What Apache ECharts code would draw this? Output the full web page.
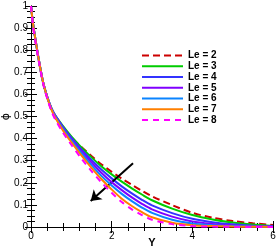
<!DOCTYPE html>
<html><head><meta charset="utf-8">
<script src="https://cdn.jsdelivr.net/npm/echarts@6/dist/echarts.min.js"></script>
<style>html,body{margin:0;padding:0;background:#fff}#c{width:278px;height:248px}</style>
</head><body><div id="c"></div>
<script>
const xs  = [0, 0.05, 0.1, 0.2, 0.3, 0.4, 0.5, 0.6, 0.8, 1.0, 1.25, 1.5, 1.75, 2.0, 2.25, 2.5, 2.75, 3.0, 3.5, 4.0, 4.5, 5.0, 5.5, 6.0];
const le2 = [1, 0.91, 0.85, 0.745, 0.65, 0.585, 0.532, 0.495, 0.447, 0.406, 0.362, 0.321, 0.283, 0.25, 0.219, 0.191, 0.164, 0.139, 0.099, 0.064, 0.042, 0.027, 0.017, 0.009];
const le3 = [1, 0.92, 0.86, 0.75, 0.655, 0.59, 0.54, 0.505, 0.455, 0.41, 0.36, 0.315, 0.274, 0.238, 0.205, 0.175, 0.147, 0.121, 0.083, 0.054, 0.034, 0.02, 0.011, 0.005];
const le4 = [1, 0.92, 0.86, 0.75, 0.655, 0.59, 0.54, 0.505, 0.451, 0.404, 0.351, 0.303, 0.259, 0.22, 0.184, 0.152, 0.123, 0.098, 0.063, 0.037, 0.022, 0.012, 0.006, 0.003];
const le5 = [1, 0.92, 0.86, 0.75, 0.655, 0.59, 0.54, 0.502, 0.447, 0.398, 0.343, 0.292, 0.244, 0.203, 0.167, 0.134, 0.105, 0.08, 0.047, 0.025, 0.014, 0.007, 0.004, 0.002];
const le6 = [1, 0.92, 0.86, 0.75, 0.655, 0.59, 0.537, 0.499, 0.442, 0.392, 0.334, 0.28, 0.23, 0.188, 0.15, 0.117, 0.088, 0.064, 0.033, 0.016, 0.008, 0.004, 0.002, 0.001];
const le7 = [1, 0.92, 0.86, 0.75, 0.655, 0.588, 0.535, 0.495, 0.435, 0.384, 0.324, 0.268, 0.216, 0.17, 0.128, 0.095, 0.067, 0.044, 0.019, 0.008, 0.004, 0.002, 0.001, 0];
const le8 = [1, 0.91, 0.85, 0.745, 0.65, 0.583, 0.528, 0.487, 0.425, 0.372, 0.31, 0.253, 0.201, 0.155, 0.113, 0.08, 0.054, 0.033, 0.013, 0.004, 0.002, 0.001, 0, 0];
const names = ['Le = 2', 'Le = 3', 'Le = 4', 'Le = 5', 'Le = 6', 'Le = 7', 'Le = 8'];
const arrowFrom = [2.53, 0.288];
const arrowTo = [1.48, 0.118];
const xTicks = [0, 2, 4, 6];
const yTicks = [0, 0.1, 0.2, 0.3, 0.4, 0.5, 0.6, 0.7, 0.8, 0.9, 1];

const allY = [le2, le3, le4, le5, le6, le7, le8];
const colors = ['#cc0000', '#00cc00', '#3333ff', '#8000ff', '#0a84ff', '#ff7f00', '#ff00ff'];
const dashes = [[7, 4], 'solid', 'solid', 'solid', 'solid', 'solid', [6, 5]];

const series = allY.map((ys, i) => ({
  name: names[i], type: 'line', smooth: 0.3, symbol: 'none', showSymbol: false,
  data: xs.map((x, j) => [x, ys[j]]),
  lineStyle: { color: colors[i], width: 2, type: dashes[i] },
  itemStyle: { color: colors[i] }, z: 2 + i
}));
series.push({
  type: 'line', data: [], silent: true,
  markLine: {
    silent: true, symbol: ['none', 'arrow'], symbolSize: 10,
    lineStyle: { color: '#000', width: 2, type: 'solid' }, label: { show: false },
    data: [[{ coord: arrowFrom }, { coord: arrowTo }]]
  }, z: 20
});

const axisCommon = {
  axisLine: { show: true, lineStyle: { color: '#000', width: 1 } },
  axisTick: { show: true, inside: true, length: 6, lineStyle: { color: '#000' } },
  splitLine: { show: false }
};
const labelFont = { color: '#000', fontFamily: 'Liberation Sans, Arial', fontSize: 10 };
const xMinor = { show: true, splitNumber: 5, length: 4, lineStyle: { color: '#000' } };
const yMinor = { show: true, splitNumber: 4, length: 4, lineStyle: { color: '#000' } };

const chart = echarts.init(document.getElementById('c'), null, { renderer: 'canvas' });
chart.setOption({
  animation: false,
  grid: { left: 31, top: 6, right: 5, bottom: 21, containLabel: false, outerBoundsMode: 'none' },
  legend: {
    data: names, orient: 'vertical', left: 141, top: 50.5, padding: 0,
    itemWidth: 41, itemHeight: 10, itemGap: 0.75,
    itemStyle: { opacity: 0 },
    textStyle: { color: '#000', fontFamily: 'Liberation Sans, Arial', fontSize: 10, fontWeight: 'bold', lineHeight: 10 }
  },
  xAxis: [
    Object.assign({}, axisCommon, { type: 'value', min: xTicks[0], max: xTicks[xTicks.length - 1], interval: 2,
      minorTick: xMinor,
      axisLabel: Object.assign({ margin: 4 }, labelFont),
      name: 'Y', nameLocation: 'middle', nameGap: 10, nameMoveOverlap: false,
      nameTextStyle: { color: '#000', fontFamily: 'Liberation Sans, Arial', fontSize: 11, fontWeight: 'bold' } }),
    Object.assign({}, axisCommon, { type: 'value', position: 'top', min: 0, max: 6, interval: 2, minorTick: xMinor, axisLabel: { show: false } })
  ],
  yAxis: [
    Object.assign({}, axisCommon, { type: 'value', min: yTicks[0], max: yTicks[yTicks.length - 1], interval: 0.1,
      minorTick: yMinor,
      axisLabel: Object.assign({ margin: 3 }, labelFont),
      name: 'ϕ', nameLocation: 'middle', nameGap: 19, nameRotate: 90, nameMoveOverlap: false,
      nameTextStyle: { color: '#000', fontFamily: 'DejaVu Sans', fontSize: 11 } }),
    Object.assign({}, axisCommon, { type: 'value', position: 'right', min: 0, max: 1, interval: 0.1, minorTick: yMinor, axisLabel: { show: false } })
  ],
  series: series
});
</script></body></html>
